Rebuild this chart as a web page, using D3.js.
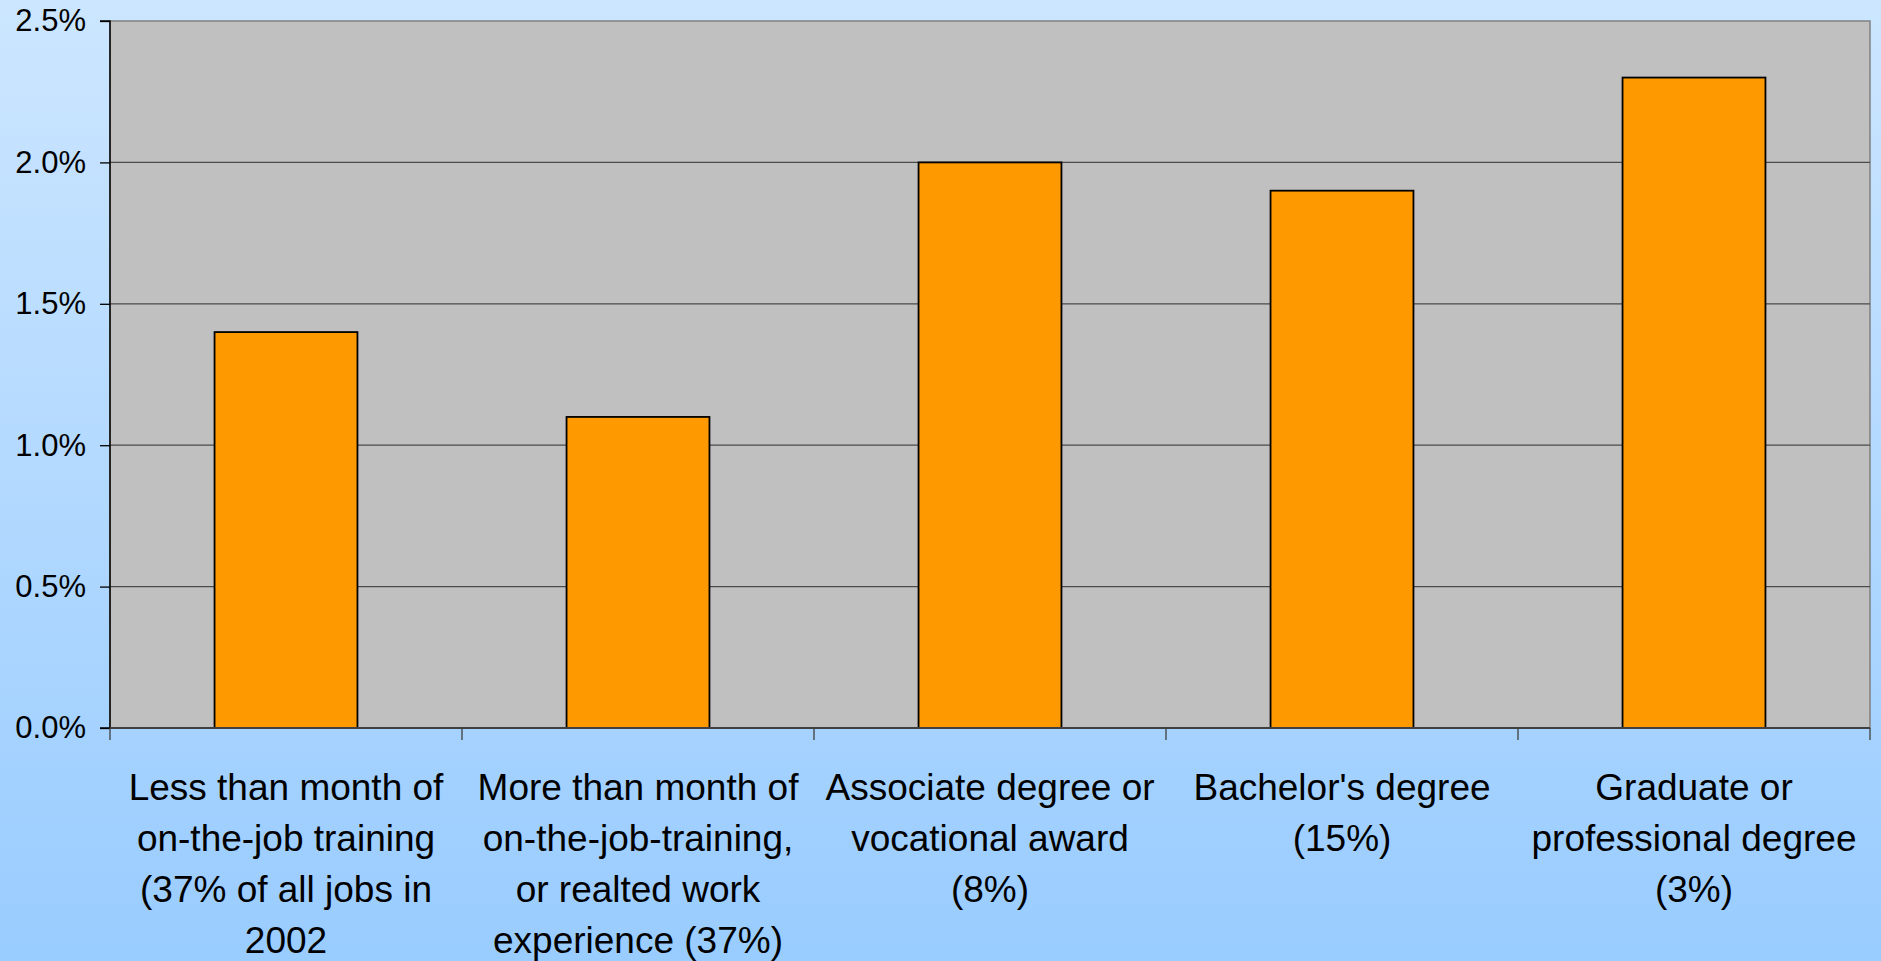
<!DOCTYPE html>
<html>
<head>
<meta charset="utf-8">
<script src="https://cdn.jsdelivr.net/npm/d3@7"></script>
<style>
  html, body { margin: 0; padding: 0; overflow: hidden; }
  svg { display: block; font-family: "Liberation Sans", Arial, sans-serif; }
</style>
</head>
<body>
<svg id="chart"></svg>
<script>
// Chart data
const categories = [
  ["Less than month of", "on-the-job training", "(37% of all jobs in", "2002"],
  ["More than month of", "on-the-job-training,", "or realted work", "experience (37%)"],
  ["Associate degree or", "vocational award", "(8%)"],
  ["Bachelor's degree", "(15%)"],
  ["Graduate or", "professional degree", "(3%)"]
];
const values = [1.4, 1.1, 2.0, 1.9, 2.3];
const yTicks = [0, 0.5, 1.0, 1.5, 2.0, 2.5];

const width = 1881, height = 961;
const margin = { top: 21, right: 11, bottom: 233, left: 110 };
const plotW = width - margin.left - margin.right;
const plotH = height - margin.top - margin.bottom;

const svg = d3.select("#chart").attr("width", width).attr("height", height);

// background gradient
const defs = svg.append("defs");
const grad = defs.append("linearGradient").attr("id", "bg")
  .attr("x1", 0).attr("y1", 0).attr("x2", 0).attr("y2", 1);
grad.append("stop").attr("offset", "0%").attr("stop-color", "#cce6ff");
grad.append("stop").attr("offset", "100%").attr("stop-color", "#99ccff");
svg.append("rect").attr("width", width).attr("height", height).attr("fill", "url(#bg)");

const g = svg.append("g").attr("transform", `translate(${margin.left},${margin.top})`);

const x = d3.scaleBand().domain(d3.range(categories.length)).range([0, plotW]).paddingInner(0).paddingOuter(0);
const y = d3.scaleLinear().domain([0, 2.5]).range([plotH, 0]);

// plot area
g.append("rect")
  .attr("width", plotW).attr("height", plotH)
  .attr("fill", "#c0c0c0")
  .attr("stroke", "#808080").attr("stroke-width", 1.5);

// gridlines
g.selectAll(".grid")
  .data(yTicks.filter(d => d > 0 && d < 2.5))
  .enter().append("line")
    .attr("x1", 0).attr("x2", plotW)
    .attr("y1", d => y(d)).attr("y2", d => y(d))
    .attr("stroke", "#4a4a4a").attr("stroke-width", 1.2);

// bars
const barW = x.bandwidth() * 0.406;
g.selectAll(".bar")
  .data(values)
  .enter().append("rect")
    .attr("x", (d, i) => x(i) + x.bandwidth() / 2 - barW / 2)
    .attr("y", d => y(d))
    .attr("width", barW)
    .attr("height", d => plotH - y(d))
    .attr("fill", "#ff9900")
    .attr("stroke", "#000").attr("stroke-width", 1.8);

// y axis
const yAxis = g.append("g")
  .call(d3.axisLeft(y).tickValues(yTicks).tickSize(10).tickPadding(14).tickFormat(d => d.toFixed(1) + "%"));
yAxis.select(".domain").attr("stroke", "#000").attr("stroke-width", 1.5).attr("d", `M-10,0H0V${plotH}H-10`);
yAxis.selectAll(".tick line").attr("stroke", "#000").attr("stroke-width", 1.3);
yAxis.selectAll(".tick text").attr("font-size", 31).attr("fill", "#000")
  .attr("font-family", "Liberation Sans, Arial, sans-serif").attr("dy", "0.32em");

// x axis line and ticks at category boundaries
g.append("line")
  .attr("x1", 0).attr("x2", plotW).attr("y1", plotH).attr("y2", plotH)
  .attr("stroke", "#404040").attr("stroke-width", 1.8);
g.selectAll(".xtick")
  .data(d3.range(categories.length + 1))
  .enter().append("line")
    .attr("x1", d => d === categories.length ? plotW : x(d))
    .attr("x2", d => d === categories.length ? plotW : x(d))
    .attr("y1", plotH).attr("y2", plotH + 12)
    .attr("stroke", "#404040").attr("stroke-width", 1.3);

// category labels
const labels = g.selectAll(".cat")
  .data(categories)
  .enter().append("text")
    .attr("text-anchor", "middle")
    .attr("font-size", 37)
    .attr("fill", "#000")
    .attr("transform", (d, i) => `translate(${x(i) + x.bandwidth() / 2},${plotH + 72})`);
labels.selectAll("tspan")
  .data(d => d)
  .enter().append("tspan")
    .attr("x", 0)
    .attr("y", (d, i) => i * 51)
    .text(d => d);
</script>
</body>
</html>
